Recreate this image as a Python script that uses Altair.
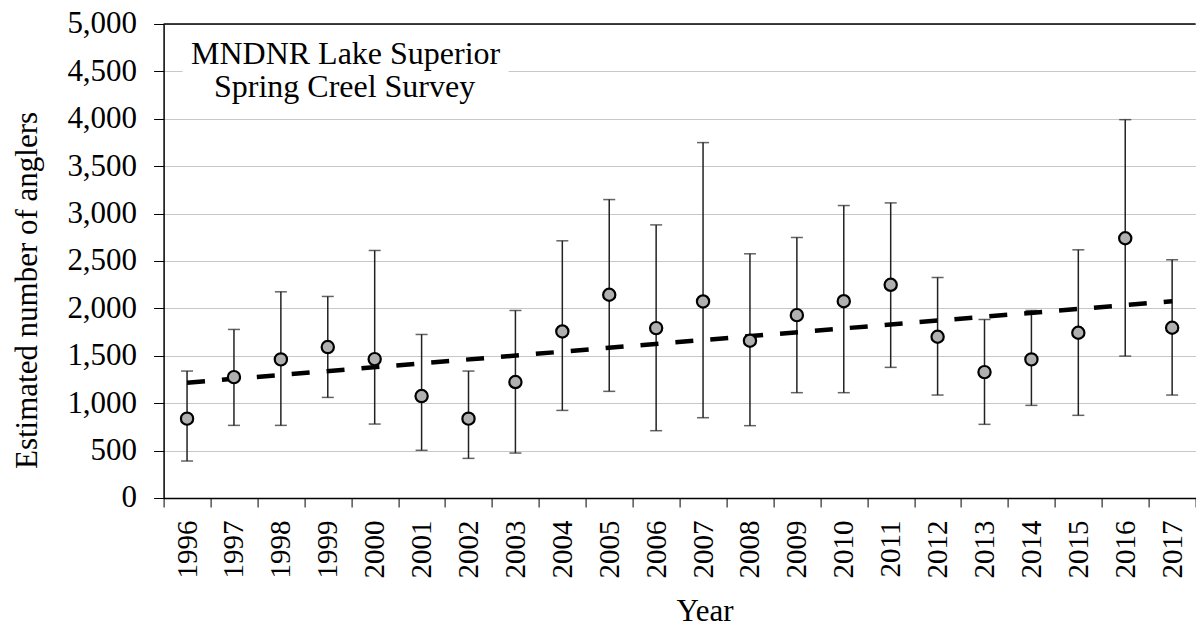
import altair as alt
import pandas as pd

years = [str(y) for y in range(1996, 2018)]
estimate = [837, 1275, 1462, 1592, 1465, 1075, 837, 1223, 1757, 2144, 1792,
            2073, 1659, 1929, 2076, 2249, 1701, 1328, 1462, 1743, 2740, 1796]
upper = [1339, 1778, 2175, 2126, 2611, 1725, 1339, 1978, 2713, 3148, 2881,
         3749, 2576, 2748, 3085, 3113, 2326, 1883, 1978, 2618, 3991, 2513]
lower = [390, 766, 766, 1061, 780, 503, 418, 474, 924, 1125, 710,
         847, 763, 1111, 1111, 1378, 1086, 777, 977, 872, 1497, 1086]
trend_years = ["1996", "2017"]
trend_values = [1216, 2076]
annotation_line1 = "MNDNR Lake Superior"
annotation_line2 = "Spring Creel Survey"
y_ticks = list(range(0, 5001, 500))

FONT = "Liberation Serif"

df = pd.DataFrame({"Year": years, "est": estimate, "hi": upper, "lo": lower})
trend_df = pd.DataFrame({"Year": trend_years, "trend": trend_values})
top_df = pd.DataFrame({"v": [5000]})
ann1_df = pd.DataFrame({"line": [annotation_line1]})
ann2_df = pd.DataFrame({"line": [annotation_line2]})

x_enc = alt.X(
    "Year:O",
    sort=years,
    scale=alt.Scale(domain=years, paddingInner=0, paddingOuter=0),
    axis=alt.Axis(
        title="Year",
        labelAngle=-90,
        labelFontSize=29,
        labelPadding=13,
        labelColor="black",
        tickBand="extent",
        tickSize=9,
        tickColor="black",
        domainColor="black",
        domainWidth=1.5,
        grid=False,
        titleFontSize=31,
        titleFontWeight="normal",
        titleColor="black",
        titleX=541,
        titleY=123,
        titleBaseline="alphabetic",
    ),
)

y_scale = alt.Scale(domain=[0, 5000], nice=False, zero=True)
y_axis = alt.Axis(
    title="Estimated number of anglers",
    values=y_ticks,
    format=",.0f",
    labelFontSize=31,
    labelPadding=17,
    labelColor="black",
    tickSize=10,
    tickColor="black",
    domainColor="black",
    domainWidth=1.5,
    grid=True,
    gridColor="#c8c8c8",
    gridWidth=1.2,
    titleFontSize=31,
    titleFontWeight="normal",
    titleColor="black",
    titleAngle=-90,
    titleX=-127,
    titleY=266,
    titleAlign="center",
    titleBaseline="alphabetic",
)

base = alt.Chart(df)

bars = base.mark_rule(color="#222222", strokeWidth=1.5).encode(
    x=x_enc,
    y=alt.Y("lo:Q", scale=y_scale, axis=y_axis),
    y2="hi:Q",
)
cap_hi = base.mark_tick(color="#222222", thickness=1.5, size=12).encode(
    x=alt.X("Year:O", sort=years), y=alt.Y("hi:Q")
)
cap_lo = base.mark_tick(color="#222222", thickness=1.5, size=12).encode(
    x=alt.X("Year:O", sort=years), y=alt.Y("lo:Q")
)
trend = alt.Chart(trend_df).mark_line(
    color="black", strokeWidth=4.5, strokeDash=[18, 17]
).encode(x=alt.X("Year:O", sort=years), y=alt.Y("trend:Q"))
points = base.mark_point(
    shape="circle", filled=True, fill="#b0b0b0", stroke="black",
    strokeWidth=2.2, size=150, opacity=1
).encode(x=alt.X("Year:O", sort=years), y=alt.Y("est:Q"))

top_rule = alt.Chart(top_df).mark_rule(color="black", strokeWidth=1.5).encode(
    y=alt.Y("v:Q"), x=alt.value(0), x2=alt.value(1032)
)

ann_bg = alt.Chart(top_df).mark_rect(color="white").encode(
    x=alt.value(19), x2=alt.value(345), y=alt.value(11), y2=alt.value(81)
)
ann_text1 = alt.Chart(ann1_df).mark_text(
    font=FONT, fontSize=32, color="black", align="center", baseline="alphabetic"
).encode(x=alt.value(182), y=alt.value(40), text="line:N")
ann_text2 = alt.Chart(ann2_df).mark_text(
    font=FONT, fontSize=32, color="black", align="center", baseline="alphabetic"
).encode(x=alt.value(181), y=alt.value(73), text="line:N")

chart = alt.layer(
    bars, ann_bg, top_rule, cap_hi, cap_lo, trend, points, ann_text1, ann_text2
).properties(
    width=1032,
    height=474,
    autosize=alt.AutoSizeParams(type="none"),
    padding={"left": 155.6, "top": 16, "right": 0, "bottom": 125.3},
).configure(font=FONT).configure_view(stroke=None)

chart.save("out.html", embed_options={"renderer": "svg", "actions": False})
